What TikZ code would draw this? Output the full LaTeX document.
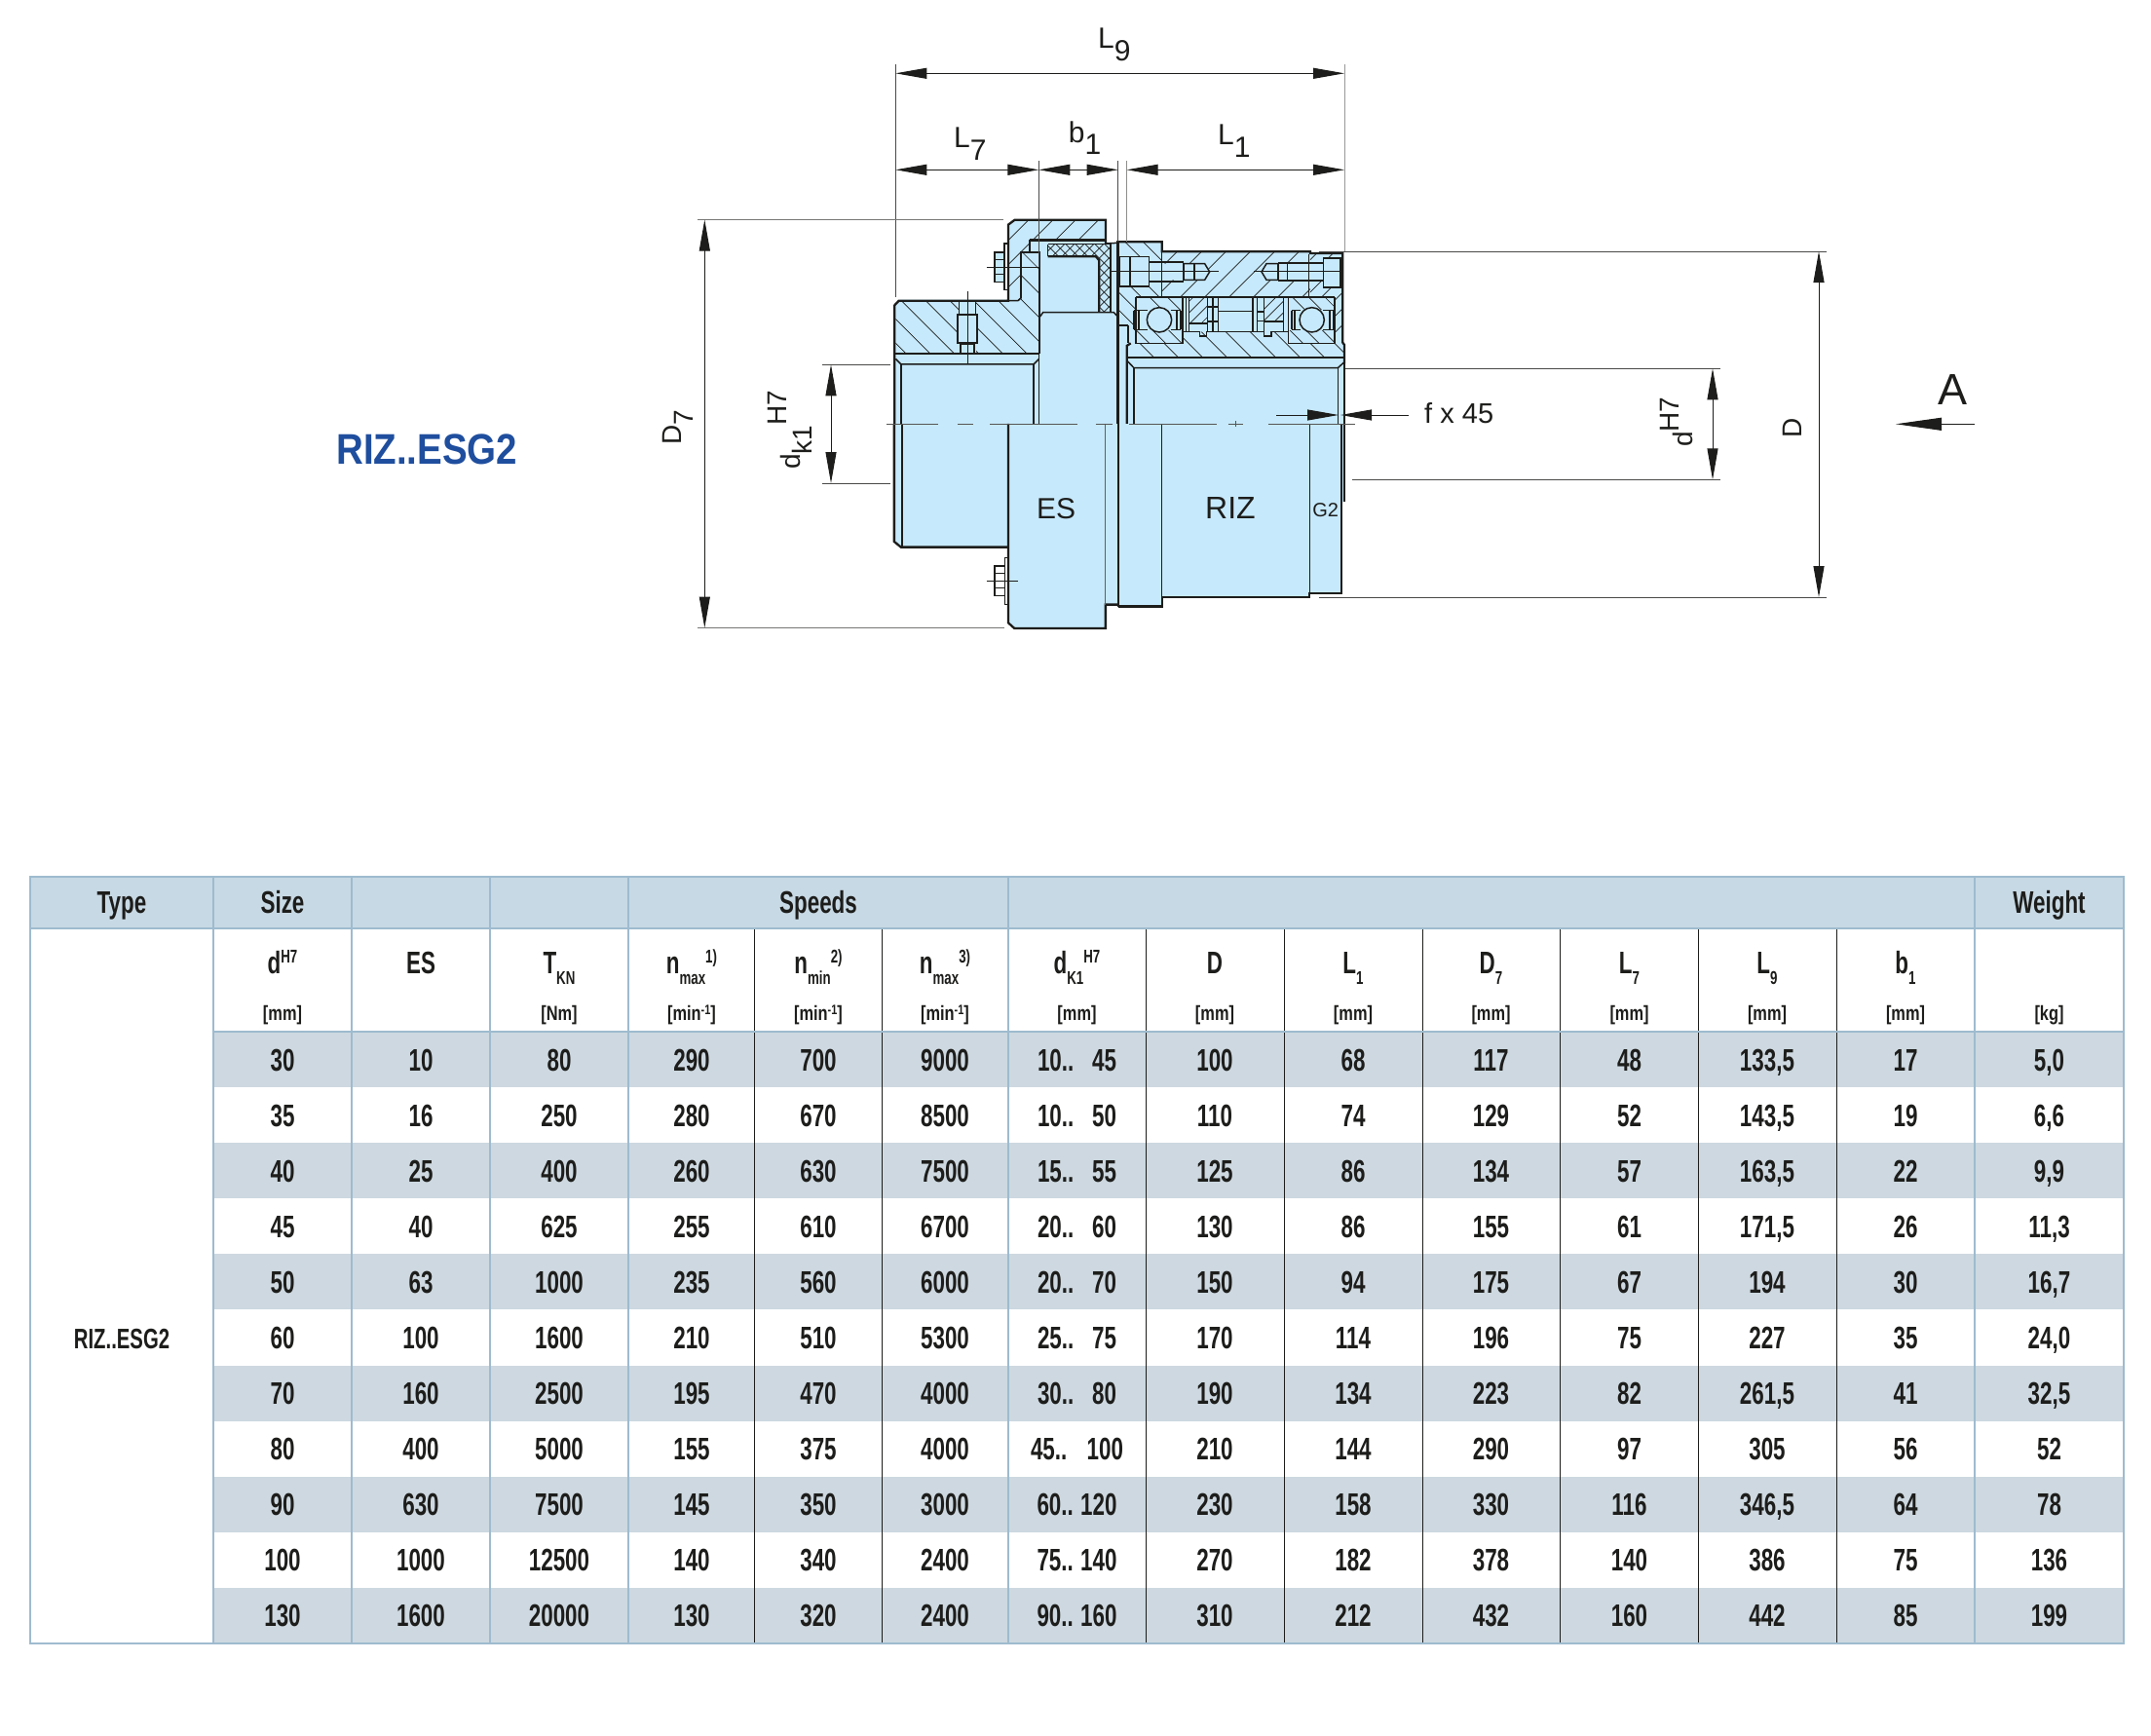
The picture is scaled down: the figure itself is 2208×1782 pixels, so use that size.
\documentclass[tikz,border=0pt]{standalone}
\usepackage{fontspec}
\usetikzlibrary{arrows.meta}
\setmainfont{Liberation Sans}
\newfontfamily\dinf[FakeStretch=0.70]{Liberation Sans}
\newfontfamily\dinu[FakeStretch=0.78]{Liberation Sans}
\newfontfamily\brandf[FakeStretch=0.875]{Liberation Sans}
\newcommand{\fsz}[1]{\fontsize{#1}{#1}\selectfont}
\newcommand{\sbs}[1]{\raisebox{-11pt}{\fsz{19}#1}}
\newcommand{\sps}[1]{\raisebox{11pt}{\fsz{19}#1}}
\newcommand{\dlow}[1]{\raisebox{-13pt}{#1}}
\newcommand{\hbs}[2]{\begin{scope}\clip #1;\foreach \hv in {#2}{\draw[hatchl] (\hv-300,-300)--++(1800,1800);}\end{scope}}
\newcommand{\hfs}[2]{\begin{scope}\clip #1;\foreach \hv in {#2}{\draw[hatchl] (\hv+300,-300)--++(-1800,1800);}\end{scope}}
\definecolor{part}{HTML}{C6E9FB}
\definecolor{headc}{HTML}{C7D9E4}
\definecolor{rowc}{HTML}{CDD8E0}
\definecolor{gridc}{HTML}{9EBBCF}
\definecolor{inkc}{HTML}{1D1D1B}
\definecolor{brandc}{HTML}{1F4E9E}
\tikzset{
 zA/.style={shift={(880,200)},x=.3444pt,y=-.3333pt},
 zB/.style={shift={(1130,230)},x=.3333pt,y=-.3333pt},
 zC/.style={shift={(900,210)},x=.3333pt,y=-.3333pt},
 thickl/.style={draw=inkc,line width=2.3pt,line join=miter},
 medl/.style={draw=inkc,line width=1.5pt},
 thinl/.style={draw=inkc,line width=1pt},
 hatchl/.style={draw=inkc,line width=.7pt},
 centl/.style={draw=inkc!75,line width=.8pt},
 extl/.style={draw=inkc!80,line width=1pt},
 dimarr/.style={draw=inkc,line width=1pt,{Triangle[length=32pt,width=11pt]}-{Triangle[length=32pt,width=11pt]}},
 onearr/.style={draw=inkc,line width=1pt,-{Triangle[length=32pt,width=11pt]}},
 gridl/.style={draw=gridc,line width=2pt},
 cellt/.style={anchor=base,inner sep=0pt,text=inkc},
 datat/.style={cellt,font=\dinf\bfseries\fsz{32}},
 unitt/.style={cellt,font=\dinu\bfseries\fsz{21}},
 dimt/.style={anchor=base west,inner sep=0pt,text=inkc,font=\fsz{30}},
}
\begin{document}
\begin{tikzpicture}[x=1pt,y=-1pt]
\useasboundingbox (0,0) rectangle (2208,1782);
\fill[white] (0,0) rectangle (2208,1782);
% ---------- table ----------
\fill[headc] (31,900) rectangle (2180,953);
\foreach \r in {0,2,4,6,8,10}{\fill[rowc] (219,1059+\r*57.09) rectangle (2180,1059+\r*57.09+57.09);}
\foreach \xx in {774,905,1176.4,1318,1460,1601.7,1743.5,1885}{\draw[draw=inkc,line width=1pt] (\xx,953)--(\xx,1687);}
\foreach \xx in {219.4,361,503,645,1034.7,2027}{\draw[gridl] (\xx,900)--(\xx,1687);}
\draw[gridl,line width=2.4pt] (31,900) rectangle (2180,1687);
\draw[gridl,line width=2.6pt] (31,953)--(2180,953);
\draw[gridl,line width=2.6pt] (219,1059)--(2180,1059);
\foreach \nm/\xx/\tx in {hType/125/Type,hSize/290/Size,hSpeeds/840/Speeds,hWeight/2103.5/Weight}{\node[datat] (\nm) at (\xx,937) {\tx};}
\node[datat] (typeval) at (125,1384) {\fsz{29}RIZ..ESG2};
\node[datat] (s1) at (290,999) {d\sps{H7}};
\node[datat] (s2) at (432,999) {ES};
\node[datat] (s3) at (574,999) {T\sbs{KN}};
\node[datat] (s4) at (710,999) {n\sbs{max}\sps{1)}};
\node[datat] (s5) at (840,999) {n\sbs{min}\sps{2)}};
\node[datat] (s6) at (970,999) {n\sbs{max}\sps{3)}};
\node[datat] (s7) at (1105.5,999) {d\sbs{K1}\sps{H7}};
\node[datat] (s8) at (1247,999) {D};
\node[datat] (s9) at (1389,999) {L\sbs{1}};
\node[datat] (s10) at (1530.5,999) {D\sbs{7}};
\node[datat] (s11) at (1672.5,999) {L\sbs{7}};
\node[datat] (s12) at (1814,999) {L\sbs{9}};
\node[datat] (s13) at (1956,999) {b\sbs{1}};
\node[unitt] (u1) at (290,1047) {[mm]};
\node[unitt] (u3) at (574,1047) {[Nm]};
\foreach \nm/\xx in {u4/710,u5/840,u6/970}{\node[unitt] (\nm) at (\xx,1047) {[min\raisebox{6pt}{\fsz{14}-1}]};}
\foreach \nm/\xx in {u7/1105.5,u8/1247,u9/1389,u10/1530.5,u11/1672.5,u12/1814,u13/1956}{\node[unitt] (\nm) at (\xx,1047) {[mm]};}
\node[unitt] (u14) at (2103.5,1047) {[kg]};
\foreach \rowv [count=\r] in {
 {30,10,80,290,700,9000,{\makebox[81pt]{10..\hfill 45}},100,68,117,48,{133,5},17,{5,0}},
 {35,16,250,280,670,8500,{\makebox[81pt]{10..\hfill 50}},110,74,129,52,{143,5},19,{6,6}},
 {40,25,400,260,630,7500,{\makebox[81pt]{15..\hfill 55}},125,86,134,57,{163,5},22,{9,9}},
 {45,40,625,255,610,6700,{\makebox[81pt]{20..\hfill 60}},130,86,155,61,{171,5},26,{11,3}},
 {50,63,1000,235,560,6000,{\makebox[81pt]{20..\hfill 70}},150,94,175,67,194,30,{16,7}},
 {60,100,1600,210,510,5300,{\makebox[81pt]{25..\hfill 75}},170,114,196,75,227,35,{24,0}},
 {70,160,2500,195,470,4000,{\makebox[81pt]{30..\hfill 80}},190,134,223,82,{261,5},41,{32,5}},
 {80,400,5000,155,375,4000,{\makebox[95pt]{45..\hfill 100}},210,144,290,97,305,56,52},
 {90,630,7500,145,350,3000,{\makebox[82pt]{60..\hfill 120}},230,158,330,116,{346,5},64,78},
 {100,1000,12500,140,340,2400,{\makebox[82pt]{75..\hfill 140}},270,182,378,140,386,75,136},
 {130,1600,20000,130,320,2400,{\makebox[82pt]{90..\hfill 160}},310,212,432,160,442,85,199}}{
 \foreach \vv [count=\c] in \rowv {
  \pgfmathsetmacro{\cx}{{290,432,574,710,840,970,1105.5,1247,1389,1530.5,1672.5,1814,1956,2103.5}[\c-1]}
  \pgfmathsetmacro{\cy}{1059+(\r-0.5)*57.09+11.5}
  \node[datat] (cell-\r-\c) at (\cx,\cy) {\vv};
 }
}
% ---------- title ----------
\node[anchor=base west,inner sep=0pt,text=brandc,font=\brandf\bfseries\fsz{44}] (brand) at (345,476.5) {RIZ..ESG2};
% ---------- coupling silhouette ----------
\begin{scope}[zA]
\path[fill=part] (110,340)--(128,323)--(450,323)--(450,92)--(468,75)--(740,75)--(740,145)--(778,150)--(778,145)--(908,145)--(908,172)--(1350,172)--(1350,180)--(1445,180)--(1445,455)--(1452,465)--(1452,945)--(1445,945)--(1445,1228)--(1348,1228)--(1348,1240)--(908,1240)--(908,1268)--(778,1268)--(778,1262)--(740,1262)--(740,1335)--(468,1335)--(450,1318)--(450,1085)--(130,1085)--(110,1068)--cycle;
\end{scope}
% ---------- left half section (zoom C frame) ----------
\begin{scope}[zC]
\hbs{(58,305)--(70,296)--(435,296)--(445,287)--(445,148)--(500,148)--(500,460)--(58,460)--cycle}{-369,-294.5,-220,-145.5,-71,3.5,78,152.5,227,301.5}
\fill[part] (252,296) rectangle (306,460);
\hfs{(408,62)--(425,47)--(703,47)--(703,108)--(472,108)--(472,147)--(445,147)--(445,287)--(435,295)--(408,295)--cycle}{515,590,660,730}
% elastomer crosshatch
\begin{scope}
\clip (527,122)--(720,122)--(720,330)--(685,330)--(685,175)--(675,160)--(527,160)--cycle;
\foreach \hv in {640,670,...,1060}{\draw[hatchl] (\hv+300,-300)--++(-1800,1800);}
\foreach \hv in {340,370,...,640}{\draw[hatchl] (\hv-300,-300)--++(1800,1800);}
\end{scope}
% ring and spider lines
\draw[thickl] (55,675)--(55,310)--(68,296)--(405,296)--(405,62)--(425,47)--(705,47)--(705,122);
\draw[thickl] (472,147)--(472,112)--(703,112);
\draw[medl] (472,108)--(703,108);
\draw[medl] (703,120)--(742,118);
\draw[medl] (527,122)--(527,160);
\draw[thickl] (527,160)--(675,160)--(685,172)--(685,330);
\draw[medl] (527,122)--(720,122)--(720,330);
\draw[thickl] (445,287)--(445,147)--(500,147)--(500,460);
\draw[medl] (500,460)--(500,675);
\draw[medl] (405,296)--(435,296)--(445,287);
\draw[medl] (503,345)--(512,332)--(730,332)--(742,345);
\draw[thickl] (58,460)--(500,460);
\draw[medl] (58,475)--(75,492)--(483,492)--(500,475);
\draw[medl] (75,492)--(75,675);
\draw[medl] (483,492)--(483,675);
% set screw
\draw[thickl] (250,340) rectangle (308,425);
\draw[thickl] (258,425)--(258,460);
\draw[thickl] (300,425)--(300,460);
\draw[medl] (258,430)--(300,430);
\draw[thinl] (252,300)--(252,340);
\draw[thinl] (305,300)--(305,340);
\draw[thinl] (280,268)--(280,490);
% bolt
\path[fill=part] (363,147) rectangle (393,238);
\draw[medl] (363,147) rectangle (393,238);
\draw[thinl] (363,170)--(393,170);
\draw[thinl] (363,215)--(393,215);
\draw[medl] (393,120) rectangle (405,263);
\draw[thinl] (338,193)--(505,193);
\end{scope}
% ---------- right half section (zoom B frame) ----------
\begin{scope}[zB]
\hbs{(55,55)--(188,55)--(188,222)--(108,222)--(105,365)--(85,365)--(85,312)--(55,312)--cycle}{-210,-155,-100,-45,20,75,130}
\hfs{(188,85)--(645,85)--(645,222)--(188,222)--cycle}{320,395,470,545,620,695,770,845}
\hfs{(645,88)--(742,88)--(742,365)--(722,365)--(722,222)--(645,222)--cycle}{755,805,855,905,955,1005,1055}
\hbs{(82,375)--(92,367)--(252,367)--(252,332)--(578,332)--(578,367)--(720,367)--(745,372)--(750,380)--(750,410)--(82,410)--cycle}{-247,-172,-97,-22,53,128,203,278,353}
\hbs{(108,224)--(252,224)--(252,262)--(108,262)--cycle}{-75,-20}
\hbs{(578,224)--(720,224)--(720,262)--(578,262)--cycle}{365,415,465}
\hbs{(108,330)--(252,330)--(252,367)--(108,367)--cycle}{-218,-168,-118}
\hbs{(578,330)--(720,330)--(720,367)--(578,367)--cycle}{255,305,355}
\hfs{(272,228)--(328,228)--(328,305)--(272,305)--cycle}{510,545,580,615}
\hfs{(502,228)--(562,228)--(562,298)--(502,298)--cycle}{765,800,835}
% holes and bolts
\fill[part] (58,100) rectangle (148,192);
\fill[part] (148,122)--(320,122)--(335,147)--(320,172)--(148,172)--cycle;
\fill[part] (495,147)--(510,122)--(685,122)--(685,172)--(510,172)--cycle;
\fill[part] (685,105) rectangle (738,195);
\draw[medl] (58,100) rectangle (148,192);
\draw[medl] (90,100)--(90,192);
\draw[thickl] (148,118)--(255,118);
\draw[thickl] (148,176)--(255,176);
\draw[medl] (255,122)--(320,122)--(335,147)--(320,172)--(255,172);
\draw[thickl] (255,120)--(255,174);
\draw[medl] (288,122)--(288,172);
\draw[thinl] (30,146)--(362,146);
\draw[medl] (545,122)--(510,122)--(495,147)--(510,172)--(545,172);
\draw[thickl] (545,120)--(685,120);
\draw[thickl] (545,174)--(685,174);
\draw[thickl] (545,120)--(545,174);
\draw[medl] (575,122)--(575,172);
\draw[medl] (685,105) rectangle (738,195);
\draw[thinl] (472,146)--(740,146);
% outer outline of section
\draw[thickl] (52,615)--(52,55)--(188,55)--(188,85)--(645,85)--(645,90)--(745,90)--(745,365)--(750,372)--(750,430);
\draw[medl] (750,430)--(750,615);
\draw[medl] (188,85)--(188,222);
\draw[medl] (640,92)--(640,222);
\draw[medl] (55,312)--(85,312);
\draw[thickl] (85,312)--(85,365);
\draw[thickl] (108,224)--(720,224);
% bearings
\draw[medl] (108,224)--(108,367)--(252,367)--(252,224);
\draw[medl] (578,224)--(578,367)--(720,367)--(720,224);
\foreach \xx in {103,118,235,247,587,598,705,718}{\draw[thickl,line width=1.8pt] (\xx,266)--(\xx,325);}
\foreach \aa/\bb in {103/145,215/247,587/615,685/718}{
 \draw[medl] (\aa,266)--(\bb,266);
 \draw[medl] (\aa,325)--(\bb,325);
}
\foreach \nm/\xx in {ballL/180,ballR/650}{\draw[medl,fill=part] (\xx,295) circle (38);}
% spacer details
\foreach \xx in {262,272,328,345,362,468,482,502,562}{\draw[medl] (\xx,228)--(\xx,332);}
\draw[thickl] (272,305)--(328,305);
\draw[thinl] (362,270)--(468,270);
\draw[medl] (482,270)--(502,270);
\draw[medl] (328,255)--(362,255);
\draw[medl] (328,300)--(362,300);
\draw[thickl] (502,300)--(562,300);
\draw[medl] (482,298)--(502,298);
% sleeve
\draw[medl] (252,332)--(305,332)--(305,345)--(325,345)--(325,332)--(503,332)--(503,345)--(525,345)--(525,332)--(578,332);
\draw[thickl] (80,615)--(80,375)--(92,367);
\draw[thickl] (80,410)--(750,410);
\draw[medl] (80,420)--(102,443)--(730,443)--(750,425);
\draw[medl] (102,443)--(102,615);
\draw[medl] (730,443)--(730,615);
\end{scope}
% ---------- views below the axis (zoom A frame) ----------
\begin{scope}[zA]
\draw[thickl] (110,705)--(110,1068)--(130,1085)--(450,1085);
\draw[medl] (133,705)--(133,1085);
\draw[medl] (541,500)--(541,705);
\draw[thickl] (778,145)--(778,1268);
\draw[thickl] (450,705)--(450,1318)--(468,1335)--(740,1335)--(740,1262)--(778,1262);
\draw[draw=inkc!70,line width=1.2pt] (740,705)--(740,1262);
\draw[thickl] (778,1268)--(908,1268)--(908,1240)--(1348,1240)--(1348,1228)--(1443,1228)--(1443,705);
\draw[medl] (908,705)--(908,1240);
\draw[medl] (1348,705)--(1348,1228);
\draw[thickl,line width=2pt] (1452,705)--(1452,945);
% lower bolt
\draw[medl] (410,1143) rectangle (440,1235);
\draw[thinl] (410,1165)--(440,1165);
\draw[thinl] (410,1212)--(440,1212);
\draw[medl] (440,1118) rectangle (450,1262);
\draw[thinl] (385,1190)--(478,1190);
% axis
\foreach \aa/\bb in {88/240,300/345,395/655,710/760,810/1070,1105/1150,1225/1485}{\draw[centl] (\aa,705)--(\bb,705);}
\draw[centl] (1128,697)--(1128,713);
\end{scope}
\node[anchor=base,inner sep=0pt,text=inkc,font=\fsz{30}] (lblES) at (1084,532.7) {ES};
\node[anchor=base,inner sep=0pt,text=inkc,font=\fsz{32}] (lblRIZ) at (1263,532.7) {RIZ};
\node[anchor=base,inner sep=0pt,text=inkc,font=\fsz{20}] (lblG2) at (1360.7,530) {G2};
% ---------- dimensions ----------
\draw[extl] (919.3,66)--(919.3,305);
\draw[extl,draw=inkc!45] (1380,66)--(1380,258);
\draw[extl] (1066.3,165)--(1066.3,274);
\draw[extl] (1147.7,165)--(1147.7,248);
\draw[extl,draw=inkc!50] (1156.7,165)--(1156.7,248);
\draw[dimarr] (919.3,75.3)--(1380,75.3);
\draw[dimarr] (919.3,174.3)--(1066.3,174.3);
\draw[dimarr] (1066.3,174.3)--(1147.7,174.3);
\draw[dimarr] (1156.7,174.3)--(1380,174.3);
\node[dimt] (lblL9) at (1127,50) {L\dlow{9}};
\node[dimt] (lblL7) at (979,151.7) {L\dlow{7}};
\node[dimt] (lblb1) at (1096.7,146.7) {b\raisebox{-12pt}{1}};
\node[dimt] (lblL1) at (1250,149) {L\dlow{1}};
\draw[extl,draw=inkc!60] (716,225.5)--(1030,225.5);
\draw[extl,draw=inkc!60] (716,644.5)--(1031,644.5);
\draw[dimarr] (723.3,225.5)--(723.3,644.5);
\node[dimt,rotate=90,font=\fsz{28}] (lblD7) at (699,457) {D\raisebox{-12pt}{7}};
\draw[extl] (844,374.3)--(914,374.3);
\draw[extl] (844,496)--(914,496);
\draw[dimarr] (853,374.3)--(853,496);
\node[dimt,rotate=90,font=\fsz{28}] (lbldk) at (821.7,482) {d\raisebox{-12pt}{k1}\raisebox{14pt}{H7}};
\draw[extl] (1381,378.3)--(1766,378.3);
\draw[extl] (1388,492.3)--(1766,492.3);
\draw[dimarr] (1758,378.3)--(1758,492.3);
\node[dimt,rotate=90,font=\fsz{28}] (lbld) at (1737.7,459) {d\raisebox{14pt}{H7}};
\draw[extl] (1353.5,258)--(1875,258);
\draw[extl] (1353.5,613)--(1875,613);
\draw[dimarr] (1867,258)--(1867,613);
\node[dimt,rotate=90,font=\fsz{28}] (lblD) at (1849,450) {D};
\draw[onearr] (1310,426)--(1374,426);
\draw[onearr] (1446,426)--(1376,426);
\node[dimt,font=\fsz{29}] (lblf) at (1462,434) {f x 45};
\node[anchor=base west,inner sep=0pt,text=inkc,font=\fsz{45}] (lblA) at (1989,415) {A};
\draw[draw=inkc,line width=1pt,-{Triangle[length=47pt,width=13pt]}] (2027,435.3)--(1946,435.3);
\end{tikzpicture}
\end{document}
